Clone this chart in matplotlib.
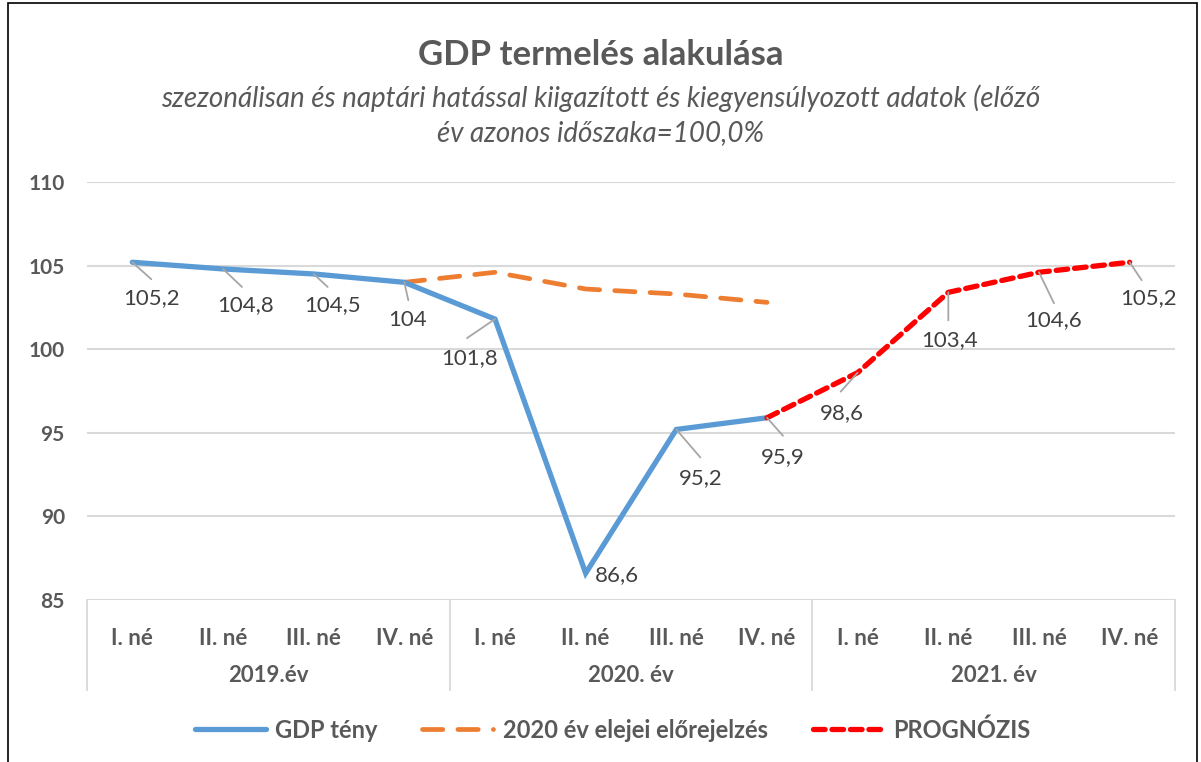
import matplotlib
matplotlib.use("Agg")
import matplotlib.pyplot as plt
import matplotlib.transforms as mtransforms
from matplotlib.patches import Rectangle

plt.rcParams['font.family'] = ['Lato', 'DejaVu Sans']

# data
quarters = ['I. né', 'II. né', 'III. né', 'IV. né'] * 3
years = ['2019.év', '2020. év', '2021. év']
gdp_x = [0, 1, 2, 3, 4, 5, 6, 7]
gdp = [105.2, 104.8, 104.5, 104.0, 101.8, 86.6, 95.2, 95.9]
fc_x = [3, 4, 5, 6, 7]
forecast2020 = [104.0, 104.6, 103.6, 103.3, 102.8]
prog_x = [7, 8, 9, 10, 11]
prognozis = [95.9, 98.6, 103.4, 104.6, 105.2]
label_x = list(range(12))
label_vals = [105.2, 104.8, 104.5, 104.0, 101.8, 86.6, 95.2, 95.9, 98.6, 103.4, 104.6, 105.2]

# label offsets in pixels (text center) and leader ends
lab_off = [(19, -36), (23, -36), (19, -31), (3, -38), (-25, -39), (31, -2),
           (24, -49), (16, -39), (-16, -40), (1, -48), (15, -48), (19, -36)]
lead_end = [(19, -17), (19, -18), (14, -13), (4, -18), (-28, -19), None,
            (24, -28), (16, -18), (-17, -19), (0, -28), (15, -31), (12, -18)]

gray = '#595959'
fig = plt.figure(figsize=(12.01, 7.62), dpi=100)
fig.patches.append(Rectangle((8 / 1201, -0.01), (1197 - 8) / 1201, 1 - 3 / 762 + 0.01,
                             transform=fig.transFigure, fill=False, ec='black', lw=1.2))
ax = fig.add_axes([87 / 1201, 1 - 600 / 762, (1175 - 87) / 1201, 418 / 762])

ax.plot(gdp_x, gdp, color='#5B9BD5', lw=3.8, solid_capstyle='round', solid_joinstyle='miter',
        label='GDP tény', zorder=3)
ax.plot(fc_x, forecast2020, color='#ED7D31', lw=3.4, dashes=(4.3, 3.2), dash_capstyle='round',
        label='2020 év elejei előrejelzés', zorder=2)
ax.plot(prog_x, prognozis, color='#FF0000', lw=3.8, dashes=(2.2, 1.3), dash_capstyle='round',
        label='PROGNÓZIS', zorder=4)

px = 72 / fig.dpi
for i, (x, v) in enumerate(zip(label_x, label_vals)):
    dx, dy = lab_off[i]
    ax.annotate(f'{v:g}'.replace('.', ','), (x, v), xytext=(dx * px, dy * px),
                textcoords='offset points', ha='center', va='center', fontsize=16,
                color='#404040', zorder=5)
    if lead_end[i] is not None:
        ex, ey = lead_end[i]
        ax.annotate('', (x, v), xytext=(ex * px, ey * px), textcoords='offset points',
                    arrowprops=dict(arrowstyle='-', color='#A6A6A6', lw=1.3,
                                    shrinkA=0, shrinkB=0), zorder=5)

ax.set_xlim(-0.5, 11.5)
ax.set_ylim(85, 110)
ax.set_yticks([85, 90, 95, 100, 105, 110])
ax.grid(axis='y', color='#D9D9D9', lw=1.5)
ax.set_axisbelow(True)
for s in ax.spines.values():
    s.set_visible(False)
ax.tick_params(axis='y', length=0, pad=16, labelsize=15, labelcolor=gray)
for t in ax.get_yticklabels():
    t.set_fontweight('bold')
ax.set_xticks(range(12))
ax.set_xticklabels(quarters, fontsize=16, fontweight='bold', color=gray)
ax.tick_params(axis='x', length=0, pad=20)

trans = mtransforms.blended_transform_factory(ax.transData, ax.transAxes)
for b in [-0.5, 3.5, 7.5, 11.5]:
    ax.plot([b, b], [0, -0.215], color='#D9D9D9', lw=1.3, transform=trans, clip_on=False)
for k, yl in enumerate(years):
    ax.text(1.5 + 4 * k, -0.18, yl, transform=trans, ha='center', va='center',
            fontsize=16, fontweight='bold', color=gray)

fig.text(0.5, 1 - 55 / 762, 'GDP termelés alakulása', ha='center', va='center',
         fontsize=25, fontweight='bold', color=gray)
fig.text(0.5, 1 - 98 / 762, 'szezonálisan és naptári hatással kiigazított és kiegyensúlyozott adatok (előző',
         ha='center', va='center', fontsize=20, style='italic', color=gray)
fig.text(0.5, 1 - 133 / 762, 'év azonos időszaka=100,0%',
         ha='center', va='center', fontsize=20, style='italic', color=gray)

leg = fig.legend(loc='center', bbox_to_anchor=(0.51, 1 - 730 / 762), ncol=3, frameon=False,
                 handlelength=3.0, columnspacing=1.9, handletextpad=0.4,
                 prop={'size': 17, 'weight': 'bold'})
for t in leg.get_texts():
    t.set_color(gray)

fig.savefig('out.png', dpi=100)
